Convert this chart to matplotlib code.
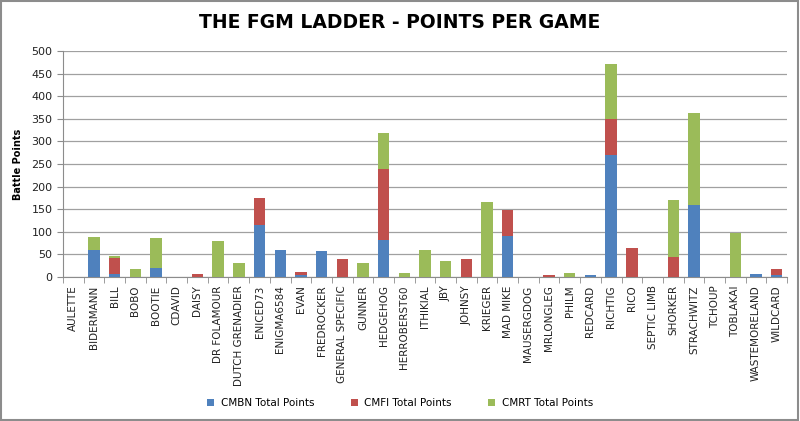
import numpy as np
import matplotlib
matplotlib.use("Agg")
import matplotlib.pyplot as plt
from matplotlib import font_manager
from matplotlib.patches import Rectangle

players = ["AULETTE", "BIDERMANN", "BILL", "BOBO", "BOOTIE", "CDAVID", "DAISY",
           "DR FOLAMOUR", "DUTCH GRENADIER", "ENICED73", "ENIGMA6584", "EVAN",
           "FREDROCKER", "GENERAL SPECIFIC", "GUNNER", "HEDGEHOG", "HERROBERST60",
           "ITHIKIAL", "JBY", "JOHNSY", "KRIEGER", "MAD MIKE", "MAUSERGDOG",
           "MRLONGLEG", "PHILM", "REDCARD", "RICHTIG", "RICO", "SEPTIC LIMB",
           "SHORKER", "STRACHWITZ", "TCHOUP", "TOBLAKAI", "WASTEMORELAND", "WILDCARD"]

cmbn = [0, 60, 7, 0, 20, 0, 0, 0, 0, 114, 60, 4, 58, 0, 0, 81, 0,
        0, 0, 0, 0, 90, 0, 0, 0, 4, 269, 0, 0, 0, 160, 0, 0, 7, 5]
cmfi = [0, 0, 35, 0, 0, 0, 6, 0, 0, 61, 0, 8, 0, 40, 0, 158, 0,
        0, 0, 40, 0, 59, 0, 4, 0, 0, 80, 64, 0, 45, 0, 0, 0, 0, 13]
cmrt = [0, 28, 5, 17, 67, 0, 0, 80, 30, 0, 0, 0, 0, 0, 30, 80, 8,
        60, 36, 0, 165, 0, 0, 0, 8, 0, 122, 0, 0, 125, 202, 0, 97, 0, 0]

series = [("CMBN Total Points", cmbn, "#4F81BD"),
          ("CMFI Total Points", cmfi, "#C0504D"),
          ("CMRT Total Points", cmrt, "#9BBB59")]

fig = plt.figure(figsize=(8, 4.21), dpi=100)
ax = fig.add_axes([63 / 800, 1 - 277 / 421, (787 - 63) / 800, (277 - 51) / 421])

x = np.arange(len(players))
bottom = np.zeros(len(players))
for name, vals, col in series:
    ax.bar(x, vals, width=0.55, bottom=bottom, color=col, label=name, zorder=3)
    bottom += np.array(vals)

ax.set_xlim(-0.5, len(players) - 0.5)
ax.set_ylim(0, 500)
ax.set_yticks(range(0, 501, 50))
ax.grid(axis="y", color="#a0a0a0", linewidth=0.9, zorder=0)
ax.set_axisbelow(True)

for s in ["top", "right"]:
    ax.spines[s].set_visible(False)
ax.spines["left"].set_color("#8c8c8c")
ax.spines["bottom"].set_color("#8c8c8c")

ax.set_xticks(x)
ax.set_xticklabels(players, rotation=90, fontsize=7.5, color="#222222")
ax.tick_params(axis="x", length=0, pad=6)
ax.set_xticks(np.arange(-0.5, len(players), 1), minor=True)
ax.tick_params(axis="x", which="minor", length=4, color="#8c8c8c")
ax.tick_params(axis="y", labelsize=8, length=4, color="#8c8c8c", labelcolor="#222222")

ax.set_ylabel("Battle Points", fontsize=7, fontweight="bold", labelpad=6)

# narrow heavy font for the stencil-like title, if available
names = {f.name for f in font_manager.fontManager.ttflist}
if "Liberation Sans Narrow" in names:
    title_kw = dict(family=["Liberation Sans Narrow", "DejaVu Sans"], fontsize=17)
else:
    title_kw = dict(family=["DejaVu Sans"], fontsize=13.5)
fig.text(0.5, 1 - 22 / 421, "THE FGM LADDER - POINTS PER GAME",
         ha="center", va="center", fontweight="bold", **title_kw)

handles, labels = ax.get_legend_handles_labels()
fig.legend(handles, labels, loc="center", bbox_to_anchor=(0.5, 1 - 403 / 421),
           ncol=3, frameon=False, fontsize=7.5, handlelength=0.7, handleheight=0.7,
           columnspacing=3.5, handletextpad=0.6)

fig.patches.append(Rectangle((0.001, 0.002), 0.997, 0.995, transform=fig.transFigure,
                             fill=False, edgecolor="#8c8c8c", linewidth=1.5))

fig.savefig("out.png", dpi=100)
